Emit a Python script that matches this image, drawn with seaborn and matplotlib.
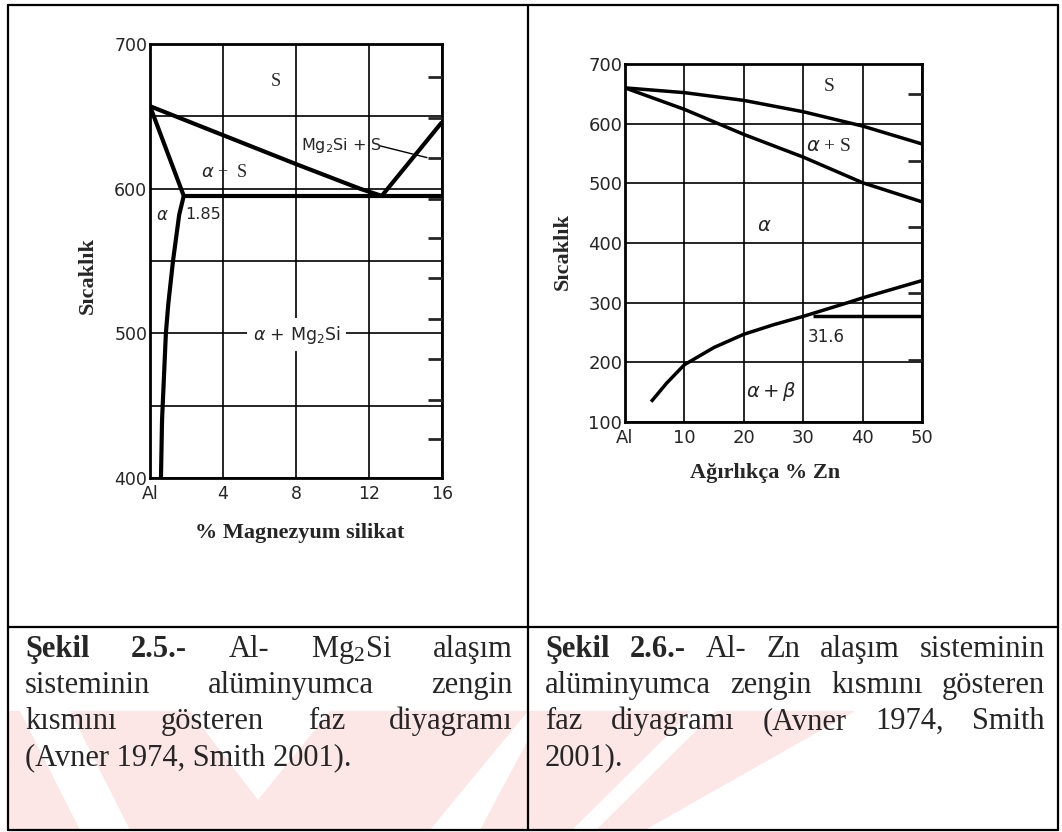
import matplotlib
matplotlib.use("Agg")
import matplotlib.pyplot as plt
import seaborn as sns
import pandas as pd
from matplotlib import transforms as mtr
from matplotlib.patches import Polygon
from matplotlib.lines import Line2D

# ---------------- data ----------------
# Al - Mg2Si
mg_liq_x = [0, 4, 8, 11.5, 12.7]
mg_liq_y = [657, 637, 617, 600, 595]
mg_liq2_x = [12.7, 16]
mg_liq2_y = [595, 646]
mg_sol_x = [0, 1.85]
mg_sol_y = [657, 595]
mg_solv_x = [1.85, 1.6, 1.26, 1.0, 0.87, 0.66, 0.6]
mg_solv_y = [595, 582, 550, 520, 500, 440, 400]
mg_eut_x = [1.85, 16]
mg_eut_y = [595, 595]
mg_lead_x = [12.6, 15.2]
mg_lead_y = [629.6, 621.4]
mg_xticks = [0, 4, 8, 12, 16]
mg_xticklabels = ["Al", "4", "8", "12", "16"]
mg_yticks = [400, 500, 600, 700]
mg_yminor = [450, 550, 650]
mg_fticks = [677, 649, 621, 593, 566, 538, 510, 482, 454, 427]

# Al - Zn
zn_liq_x = [0, 10, 20, 30, 40, 50]
zn_liq_y = [660, 652, 639, 620, 596, 566]
zn_sol_x = [0, 10, 20, 30, 40, 50]
zn_sol_y = [660, 624, 582, 544, 501, 469]
zn_solv_x = [4.4, 7, 10, 15, 20, 25, 30, 37.5, 40, 50]
zn_solv_y = [134, 165, 196, 225, 247, 263, 277, 300, 308, 337]
zn_eut_x = [31.6, 50]
zn_eut_y = [277, 277]
zn_xticks = [0, 10, 20, 30, 40, 50]
zn_xticklabels = ["Al", "10", "20", "30", "40", "50"]
zn_yticks = [100, 200, 300, 400, 500, 600, 700]
zn_fticks = [649, 538, 427, 316, 204]

cap_left = [["Şekil", "2.5.-", "Al-", r"Mg$\mathregular{_2}$Si", "alaşım"],
            ["sisteminin", "alüminyumca", "zengin"],
            ["kısmını", "gösteren", "faz", "diyagramı"],
            ["(Avner 1974, Smith 2001)."]]
cap_right = [["Şekil", "2.6.-", "Al-", "Zn", "alaşım", "sisteminin"],
             ["alüminyumca", "zengin", "kısmını", "gösteren"],
             ["faz", "diyagramı", "(Avner", "1974,", "Smith"],
             ["2001)."]]

# ---------------- style ----------------
sns.set_style("white")
plt.rcParams["font.family"] = ["Liberation Serif", "DejaVu Sans"]
plt.rcParams["mathtext.fontset"] = "dejavusans"

W, H = 1062, 832
fig = plt.figure(figsize=(W / 100, H / 100), dpi=100)
fig.patch.set_facecolor("white")
pxT = mtr.Affine2D().scale(1 / W, -1 / H).translate(0, 1) + fig.transFigure


def ax_rect(l, t, r, b):
    return [l / W, 1 - b / H, (r - l) / W, (b - t) / H]


SANS = "DejaVu Sans"
SERIF = "Liberation Serif"

# ---------------- watermark ----------------
PINK = "#fde6e6"
for poly, col in [
    ([(8, 711), (528, 711), (528, 830), (8, 830)], PINK),
    ([(20, 711), (70, 711), (130, 830), (80, 830)], "white"),
    ([(190, 711), (330, 711), (258, 800)], "white"),
    ([(430, 830), (480, 830), (528, 740), (528, 711)], "white"),
    ([(528, 711), (855, 711), (645, 830), (528, 830)], PINK),
    ([(572, 830), (596, 830), (716, 711), (692, 711)], "white"),
]:
    fig.add_artist(Polygon(poly, closed=True, transform=pxT, facecolor=col,
                           edgecolor="none", zorder=0))

# ---------------- table lines ----------------
for xs, ys in [([8, 1058], [5, 5]), ([8, 8], [5, 830]), ([1058, 1058], [5, 830]),
               ([528, 528], [5, 830]), ([8, 1058], [627, 627]), ([8, 1058], [830, 830])]:
    fig.add_artist(Line2D(xs, ys, transform=pxT, color="black", lw=1.6, zorder=1))


def style_axes(ax, lw_grid):
    ax.set_axisbelow(True)
    ax.grid(which="both", color="black", lw=lw_grid)
    for s in ax.spines.values():
        s.set_color("black")
        s.set_linewidth(2)
        s.set_visible(True)


def curve(ax, xs, ys, lw):
    df = pd.DataFrame({"x": xs, "y": ys})
    sns.lineplot(data=df, x="x", y="y", ax=ax, color="black", lw=lw,
                 sort=False, estimator=None, solid_capstyle="butt")


# ---------------- left chart ----------------
axL = fig.add_axes(ax_rect(150, 44, 442, 478))
axL.set_facecolor("white")
axL.set_xlim(0, 16)
axL.set_ylim(400, 700)
axL.set_xticks(mg_xticks)
axL.set_xticklabels(mg_xticklabels)
axL.set_yticks(mg_yticks)
axL.set_yticks(mg_yminor, minor=True)
style_axes(axL, 1.2)
for xs, ys in [(mg_liq_x, mg_liq_y), (mg_liq2_x, mg_liq2_y), (mg_sol_x, mg_sol_y),
               (mg_solv_x, mg_solv_y), (mg_eut_x, mg_eut_y)]:
    curve(axL, xs, ys, 3.0)
curve(axL, mg_lead_x, mg_lead_y, 1.0)
axL.tick_params(which="both", length=0, labelsize=12.5)
axL.tick_params(axis="x", pad=5)
axL.tick_params(axis="y", pad=2)
for lab in axL.get_xticklabels() + axL.get_yticklabels():
    lab.set_fontfamily(SANS)
axL.set_xlabel("")
axL.set_ylabel("")

axL.text(6.9, 674, "S", family=SERIF, fontsize=13, ha="center", va="center")
axL.text(8.3, 630, r"Mg$_2$Si + S", family=SANS, fontsize=11.5, ha="left", va="center")
axL.text(4.09, 611, r"$\alpha$ +  S", family=SERIF, fontsize=13, ha="center", va="center")
axL.text(0.7, 582, r"$\alpha$", family=SANS, fontsize=12, ha="center", va="center")
axL.text(1.95, 582, "1.85", family=SANS, fontsize=11.5, ha="left", va="center")
axL.text(8.03, 499, r"$\alpha$ + Mg$_2$Si", family=SANS, fontsize=12.5, ha="center",
         va="center", bbox=dict(facecolor="white", edgecolor="none", pad=4))

twL = axL.twinx()
twL.set_ylim(400, 700)
twL.set_yticks(mg_fticks)
twL.tick_params(axis="y", direction="in", length=10, width=2, right=True,
                labelright=False, left=False)
twL.grid(False)
for s in twL.spines.values():
    s.set_visible(False)

# ---------------- right chart ----------------
axR = fig.add_axes(ax_rect(625, 64, 922, 422))
axR.set_facecolor("white")
axR.set_xlim(0, 50)
axR.set_ylim(100, 700)
axR.set_xticks(zn_xticks)
axR.set_xticklabels(zn_xticklabels)
axR.set_yticks(zn_yticks)
style_axes(axR, 1.2)
for xs, ys in [(zn_liq_x, zn_liq_y), (zn_sol_x, zn_sol_y), (zn_solv_x, zn_solv_y),
               (zn_eut_x, zn_eut_y)]:
    curve(axR, xs, ys, 2.5)
axR.tick_params(which="both", length=0, labelsize=13)
axR.tick_params(axis="x", pad=5)
axR.tick_params(axis="y", pad=2)
for lab in axR.get_xticklabels() + axR.get_yticklabels():
    lab.set_fontfamily(SANS)
axR.set_xlabel("")
axR.set_ylabel("")

axR.text(34.3, 662, "S", family=SERIF, fontsize=14, ha="center", va="center")
axR.text(30.5, 562, r"$\alpha$ + S", family=SERIF, fontsize=14, ha="left", va="center")
axR.text(23.5, 429, r"$\alpha$", family=SANS, fontsize=14, ha="center", va="center")
axR.text(30.7, 243, "31.6", family=SANS, fontsize=12, ha="left", va="center")
axR.text(20.4, 151, r"$\alpha + \beta$", family=SANS, fontsize=14, ha="left", va="center")

twR = axR.twinx()
twR.set_ylim(100, 700)
twR.set_yticks(zn_fticks)
twR.tick_params(axis="y", direction="in", length=10, width=2, right=True,
                labelright=False, left=False)
twR.grid(False)
for s in twR.spines.values():
    s.set_visible(False)

# ---------------- axis titles ----------------
fig.text(88, 275, "Sıcaklık", transform=pxT, family=SERIF, weight="bold", fontsize=16,
         rotation=90, ha="center", va="center")
fig.text(300, 533, "% Magnezyum silikat", transform=pxT, family=SERIF, weight="bold",
         fontsize=16, ha="center", va="center")
fig.text(563, 251, "Sıcaklık", transform=pxT, family=SERIF, weight="bold", fontsize=16,
         rotation=90, ha="center", va="center")
fig.text(765, 473, "Ağırlıkça % Zn", transform=pxT, family=SERIF, weight="bold",
         fontsize=16, ha="center", va="center")

# ---------------- captions ----------------
CAP_FS = 22
renderer = fig.canvas.get_renderer()
baselines = [657, 693, 729, 765]


def caption(lines, x0, x1):
    for li, (words, yb) in enumerate(zip(lines, baselines)):
        arts, widths = [], []
        for wi, w in enumerate(words):
            bold = (li == 0 and wi < 2)
            t = fig.text(0, 0, w, transform=pxT, family=SERIF, fontsize=CAP_FS,
                         weight="bold" if bold else "normal", ha="left",
                         va="baseline", zorder=5)
            arts.append(t)
            widths.append(t.get_window_extent(renderer=renderer).width)
        last = li == len(lines) - 1
        if not last and len(words) > 1:
            gap = (x1 - x0 - sum(widths)) / (len(words) - 1)
        else:
            gap = CAP_FS * 100 / 72 * 0.25
        x = x0
        for t, w in zip(arts, widths):
            t.set_position((x, yb))
            x += w + gap


caption(cap_left, 25, 513)
caption(cap_right, 545, 1045)

fig.savefig("out.png", dpi=100, facecolor="white")
